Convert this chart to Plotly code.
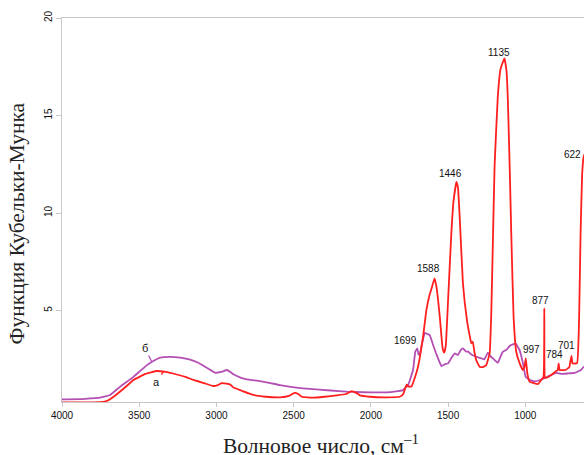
import numpy as np
import plotly.graph_objects as go

# ---- data ----
wn_a = [4000, 3800, 3733, 3700, 3666, 3600, 3537, 3460, 3386, 3330, 3257, 3200, 3149,
        3080, 3020, 2990, 2965, 2935, 2910, 2890, 2840, 2761, 2680, 2589, 2530, 2495,
        2470, 2448, 2373, 2300, 2222, 2160, 2125, 2095, 2071, 2007, 1900, 1813, 1790,
        1769, 1755, 1737, 1720, 1700, 1684, 1662, 1641, 1620, 1608, 1588, 1575, 1554,
        1540, 1533, 1525, 1515, 1500, 1479, 1465, 1446, 1436, 1425, 1404, 1378, 1360,
        1350, 1340, 1330, 1318, 1296, 1275, 1253, 1231, 1221, 1210, 1199, 1178, 1160,
        1135, 1122, 1113, 1100, 1091, 1076, 1059, 1037, 1016, 1005, 997, 987, 972, 918,
        896, 882, 877, 873, 866, 832, 800, 790, 784, 778, 740, 715, 708, 701, 695, 665,
        652, 642, 632, 622, 605]
ka_a = [0.29, 0.29, 0.31, 0.40, 0.58, 1.00, 1.44, 1.75, 1.90, 1.85, 1.72, 1.60, 1.44,
        1.28, 1.13, 1.18, 1.28, 1.25, 1.20, 1.05, 0.90, 0.67, 0.58, 0.55, 0.62, 0.78,
        0.72, 0.58, 0.53, 0.58, 0.65, 0.72, 0.87, 0.78, 0.65, 0.58, 0.55, 0.58, 0.72,
        1.20, 1.10, 1.10, 1.45, 1.95, 2.55, 3.66, 5.00, 5.80, 6.10, 6.65, 6.20, 4.70,
        3.40, 2.97, 2.84, 3.20, 5.54, 8.97, 10.6, 11.6, 11.3, 9.81, 6.40, 4.51, 3.70,
        3.32, 3.40, 2.90, 2.46, 2.12, 2.10, 2.20, 2.80, 4.68, 8.50, 12.4, 16.0, 17.4,
        17.93, 17.3, 15.8, 12.0, 8.96, 4.68, 2.90, 2.30, 1.95, 2.10, 2.55, 1.78, 1.35, 1.23,
        1.45, 1.60, 5.11, 1.55, 1.55, 1.70, 1.90, 1.95, 2.29, 1.95, 1.95, 2.10, 2.40, 2.67,
        2.29, 2.30, 4.50, 9.00, 12.0, 12.9, 13.2]

wn_b = [4000, 3850, 3752, 3688, 3623, 3537, 3450, 3400, 3364, 3300, 3235, 3170, 3117,
        3060, 3009, 2970, 2933, 2910, 2890, 2840, 2804, 2718, 2650, 2589, 2459, 2373,
        2260, 2157, 2050, 1942, 1870, 1824, 1791, 1759, 1727, 1712, 1699, 1692, 1684,
        1673, 1660, 1651, 1635, 1619, 1597, 1580, 1565, 1543, 1520, 1500, 1480, 1457,
        1436, 1420, 1404, 1385, 1371, 1350, 1328, 1305, 1285, 1265, 1242, 1225, 1210,
        1178, 1160, 1145, 1120, 1102, 1085, 1062, 1037, 1015, 998, 972, 940, 900, 854,
        800, 760, 720, 680, 640, 624, 600]
ka_b = [0.44, 0.47, 0.53, 0.67, 1.10, 1.60, 2.20, 2.45, 2.58, 2.62, 2.58, 2.48, 2.32,
        2.05, 1.81, 1.85, 1.95, 1.85, 1.73, 1.55, 1.47, 1.38, 1.28, 1.18, 1.02, 0.97,
        0.90, 0.84, 0.81, 0.80, 0.82, 0.87, 0.92, 1.18, 1.95, 2.90, 3.06, 2.75, 2.72,
        3.14, 3.60, 3.86, 3.80, 3.74, 3.23, 2.85, 2.55, 2.15, 2.25, 2.29, 2.55, 2.80,
        2.72, 2.95, 3.06, 2.90, 2.89, 2.75, 2.67, 2.60, 2.55, 2.50, 2.84, 2.65, 2.55,
        2.32, 2.65, 2.89, 3.00, 3.18, 3.25, 3.30, 2.97, 2.29, 1.60, 1.45, 1.37, 1.45, 1.62,
        1.80, 1.75, 1.78, 1.80, 1.95, 2.10, 2.20]

x_ticks = [4000, 3500, 3000, 2500, 2000, 1500, 1000]
y_ticks = [5, 10, 15, 20]

peak_labels = [1135, 1446, 1588, 1699, 997, 877, 784, 701, 622]
peak_series = {1699: "b"}  # others on curve a

series_names = {"a": "а", "b": "б"}

# ---- styling / placement ----
RED = "#ff1f1f"
PURPLE = "#b44fb4"
AXIS_C = "#c8c8c8"
label_offsets = {  # pixel offsets of peak labels (dx, dy up)
    1135: (-5, 6), 1446: (-6, 8), 1588: (-6, 9.5), 1699: (-12, 8), 997: (5.5, 9),
    877: (-3.5, 7.5), 784: (-4, 8.5), 701: (-4.5, 10.5), 622: (-11.5, 1.5),
}


def val(series, w):
    xs, ys = (wn_a, ka_a) if series == "a" else (wn_b, ka_b)
    return float(np.interp(w, xs[::-1], ys[::-1]))


fig = go.Figure()
fig.add_trace(go.Scatter(x=wn_b, y=ka_b, mode="lines", name=series_names["b"],
                         line=dict(color=PURPLE, width=1.8, shape="spline", smoothing=0.3)))
fig.add_trace(go.Scatter(x=wn_a, y=ka_a, mode="lines", name=series_names["a"],
                         line=dict(color=RED, width=1.8, shape="spline", smoothing=0.3)))

annotations = []
for p in peak_labels:
    s = peak_series.get(p, "a")
    dx, dy = label_offsets[p]
    annotations.append(dict(x=p, y=val(s, p), text=str(p), showarrow=False,
                            xshift=dx, yshift=dy, xanchor="center", yanchor="middle",
                            font=dict(family="Liberation Sans, Arial", size=10, color="#111")))

# curve labels with leader lines
annotations.append(dict(x=3418, y=val("b", 3418), text=series_names["b"], showarrow=True,
                        arrowhead=0, arrowwidth=1.3, arrowcolor=PURPLE, ax=-7, ay=-14,
                        standoff=0,
                        font=dict(family="Liberation Sans, Arial", size=11, color="#111")))
annotations.append(dict(x=3343, y=val("a", 3343), text=series_names["a"], showarrow=True,
                        arrowhead=0, arrowwidth=1.3, arrowcolor=RED, ax=-7, ay=10,
                        standoff=0,
                        font=dict(family="Liberation Sans, Arial", size=11, color="#111")))

# axis titles
annotations.append(dict(xref="paper", yref="paper", x=0.497, y=0, yshift=-42,
                        text="Волновое число, см<sup>–1</sup>", showarrow=False,
                        xanchor="center", yanchor="middle",
                        font=dict(family="Liberation Serif, Times New Roman", size=21.5, color="#222")))
annotations.append(dict(xref="paper", yref="paper", x=0, y=0.465, xshift=-45,
                        text="Функция Кубельки-Мунка", showarrow=False, textangle=-90,
                        xanchor="center", yanchor="middle",
                        font=dict(family="Liberation Serif, Times New Roman", size=21.5, color="#222")))

fig.update_layout(
    width=584, height=455,
    margin=dict(l=62, r=0, t=18, b=53, autoexpand=False),
    paper_bgcolor="white", plot_bgcolor="white",
    showlegend=False,
    annotations=annotations,
    font=dict(family="Liberation Sans, Arial", size=10, color="#111"),
)
fig.update_xaxes(range=[4000, 620], tickvals=x_ticks, ticktext=[str(t) for t in x_ticks],
                 showgrid=False, zeroline=False, showline=True, linecolor=AXIS_C, linewidth=1,
                 mirror=True, ticks="outside", ticklen=4, tickcolor=AXIS_C,
                 tickfont=dict(size=10, family="Liberation Sans, Arial", color="#111"))
fig.update_yaxes(range=[0.31, 20], tickvals=y_ticks, ticktext=[str(t) for t in y_ticks],
                 showgrid=False, zeroline=False, showline=True, linecolor=AXIS_C, linewidth=1,
                 ticks="outside", ticklen=5, tickcolor=AXIS_C, tickangle=-90,
                 tickfont=dict(size=10, family="Liberation Sans, Arial", color="#111"))

fig.write_html("out.html",
               config={"displayModeBar": False},
               post_script="document.body.style.margin='0px';"
                           "document.body.style.overflow='hidden';")
